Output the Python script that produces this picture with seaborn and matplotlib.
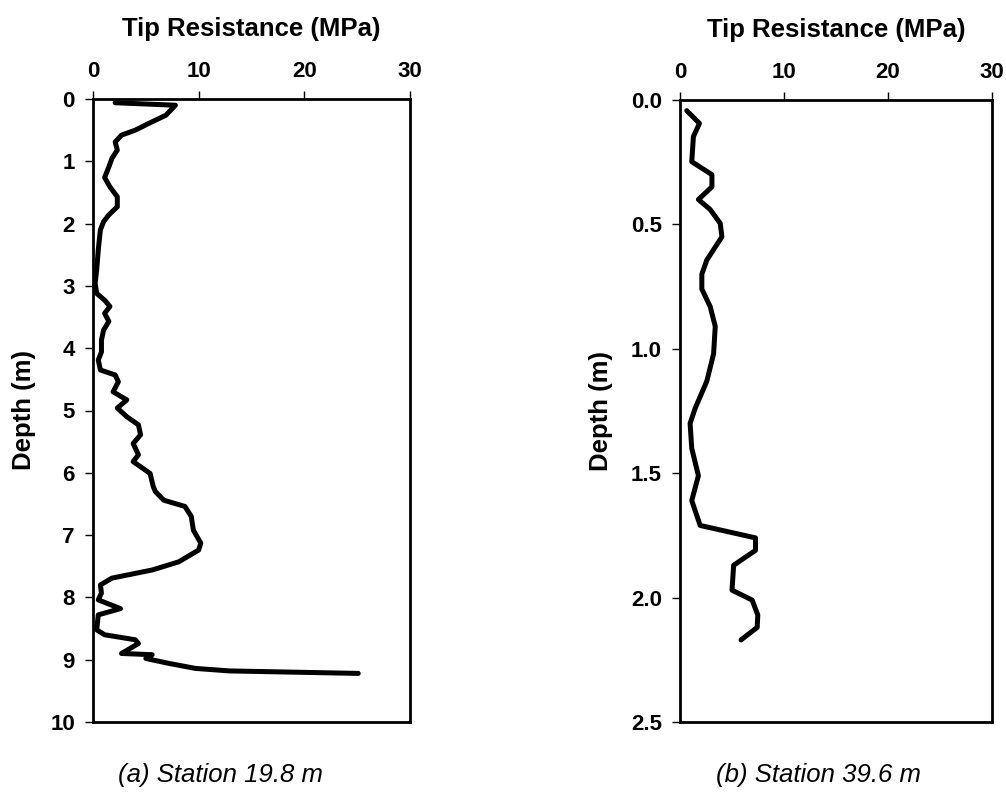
import matplotlib
matplotlib.use("Agg")
import matplotlib.pyplot as plt
import seaborn as sns
import pandas as pd

# Station 19.8 m
depth_a = [0.06, 0.10, 0.26, 0.39, 0.50, 0.58, 0.69, 0.82, 0.95, 1.09, 1.26, 1.41, 1.57, 1.73,
           1.86, 1.97, 2.10, 2.42, 2.74, 2.96, 3.12, 3.23, 3.33, 3.44, 3.57, 3.71, 3.87, 4.06,
           4.19, 4.35, 4.43, 4.54, 4.70, 4.83, 4.96, 5.10, 5.23, 5.39, 5.53, 5.71, 5.82, 6.01,
           6.22, 6.30, 6.44, 6.54, 6.70, 6.92, 7.13, 7.24, 7.43, 7.56, 7.69, 7.80, 7.93, 8.04,
           8.18, 8.28, 8.52, 8.60, 8.68, 8.74, 8.90, 8.92, 8.98, 9.06, 9.14, 9.18, 9.22]
tip_a = [2.1, 7.8, 6.9, 5.3, 4.0, 2.7, 2.1, 2.3, 1.8, 1.5, 1.1, 1.6, 2.3, 2.3,
         1.5, 1.0, 0.7, 0.5, 0.35, 0.2, 0.35, 1.1, 1.6, 1.1, 1.5, 1.0, 0.8, 0.8,
         0.5, 0.7, 2.1, 2.4, 1.9, 3.2, 2.3, 3.2, 4.3, 4.5, 3.8, 4.3, 3.8, 5.4,
         5.7, 5.9, 6.7, 8.7, 9.3, 9.5, 10.2, 10.0, 8.1, 5.6, 1.8, 0.7, 0.8, 0.5,
         2.6, 0.5, 0.35, 1.1, 4.0, 4.3, 2.7, 5.6, 5.0, 7.2, 9.7, 12.9, 25.1]

# Station 39.6 m
depth_b = [0.043, 0.094, 0.147, 0.248, 0.30, 0.349, 0.40, 0.44, 0.496, 0.55, 0.643, 0.70,
           0.76, 0.83, 0.91, 1.02, 1.13, 1.24, 1.30, 1.40, 1.51, 1.61, 1.71, 1.76, 1.81,
           1.87, 1.97, 2.01, 2.07, 2.12, 2.17]
tip_b = [0.65, 1.87, 1.29, 1.13, 3.07, 3.07, 1.77, 2.9, 3.87, 4.03, 2.58, 2.1,
         2.1, 2.9, 3.39, 3.23, 2.58, 1.45, 0.97, 1.13, 1.77, 1.13, 1.94, 7.26, 7.26,
         5.16, 5.0, 6.94, 7.48, 7.42, 5.87]

x_ticks = [0, 10, 20, 30]
y_ticks_a = [0, 1, 2, 3, 4, 5, 6, 7, 8, 9, 10]
y_ticks_b = [0.0, 0.5, 1.0, 1.5, 2.0, 2.5]
x_title = "Tip Resistance (MPa)"
y_title = "Depth (m)"
captions = ["(a) Station 19.8 m", "(b) Station 39.6 m"]

sns.set_style("white")
plt.rcParams['font.family'] = ['Liberation Sans', 'DejaVu Sans']
plt.rcParams['text.color'] = 'black'
plt.rcParams['axes.labelcolor'] = 'black'
plt.rcParams['xtick.color'] = 'black'
plt.rcParams['ytick.color'] = 'black'

W, H = 1006, 799
fig = plt.figure(figsize=(W / 100, H / 100), dpi=100)

def px_axes(x0, y0, x1, y1):
    return fig.add_axes([x0 / W, 1 - y1 / H, (x1 - x0) / W, (y1 - y0) / H])

ax_a = px_axes(93, 99, 410, 722)
ax_b = px_axes(680, 100, 992, 722)

df_a = pd.DataFrame({"tip": tip_a, "depth": depth_a})
df_b = pd.DataFrame({"tip": tip_b, "depth": depth_b})

TICK_FS = 16
LABEL_FS = 18.5

for ax, df, yt, ylim, fmt, ylpad in [(ax_a, df_a, y_ticks_a, (10, 0), "{:g}", 10),
                                     (ax_b, df_b, y_ticks_b, (2.5, 0), "{:.1f}", 13)]:
    sns.lineplot(data=df, x="tip", y="depth", sort=False, estimator=None,
                 color="black", linewidth=3.6, ax=ax)
    for ln in ax.get_lines():
        ln.set_solid_joinstyle("round")
        ln.set_solid_capstyle("round")
    ax.set_xlim(0, 30)
    ax.set_ylim(*ylim)
    ax.xaxis.tick_top()
    ax.xaxis.set_label_position("top")
    ax.set_xticks(x_ticks)
    ax.set_xticklabels([str(v) for v in x_ticks], fontsize=TICK_FS, fontweight="bold")
    ax.set_yticks(yt)
    ax.set_yticklabels([fmt.format(v) for v in yt], fontsize=TICK_FS, fontweight="bold")
    ax.tick_params(axis="both", direction="out", length=6, width=1, color="black",
                   top=True, bottom=False, left=True, right=False)
    ax.tick_params(axis="y", pad=7)
    ax.tick_params(axis="x", pad=6)
    ax.set_xlabel(x_title, fontsize=LABEL_FS, fontweight="bold", labelpad=18)
    ax.set_ylabel(y_title, fontsize=LABEL_FS, fontweight="bold", labelpad=ylpad)
    for s in ax.spines.values():
        s.set_color("black")
        s.set_linewidth(2)
    ax.grid(False)

fig.text(220 / W, 1 - 775 / H, captions[0], fontsize=18.5, fontstyle="italic",
         ha="center", va="center")
fig.text(818 / W, 1 - 775 / H, captions[1], fontsize=18.5, fontstyle="italic",
         ha="center", va="center")

fig.savefig("out.png", dpi=100)
